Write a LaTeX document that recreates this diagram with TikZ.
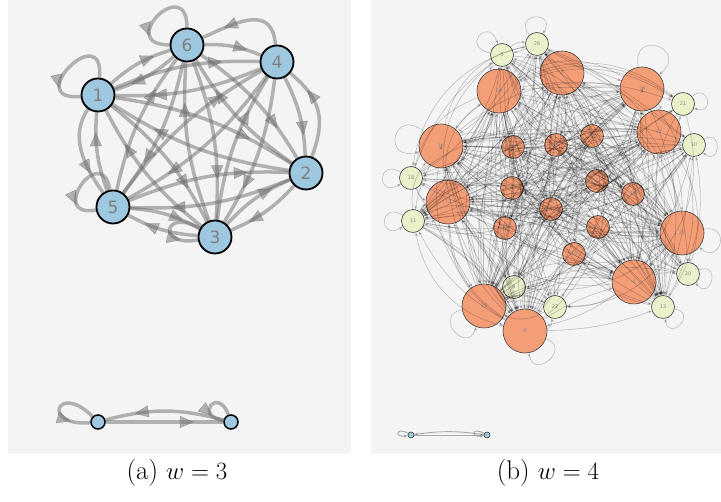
\documentclass[tikz,border=0pt]{standalone}
\usepackage{fontspec}
\newfontfamily\lab{DejaVu Sans}
\usetikzlibrary{arrows.meta,decorations.markings}
\definecolor{panel}{RGB}{244,244,244}
\definecolor{lblue}{RGB}{158,200,224}
\definecolor{lgray}{RGB}{110,110,110}
\definecolor{orng}{RGB}{244,158,120}
\definecolor{ylw}{RGB}{234,241,202}
\pgfdeclarelayer{back}
\pgfdeclarelayer{bg}
\pgfsetlayers{back,bg,main}
\pgfmathdeclarerandomlist{rn}{{0}{1}{2}{3}{4}{4}{5}{6}{6}{7}{7}{8}{9}{10}{11}{12}{12}{13}{14}{14}{15}{16}{17}{17}{18}{19}{19}{20}{21}{22}{23}{24}{24}{25}{25}{26}{27}{28}{28}{29}}
\begin{document}
\begin{tikzpicture}[x=1pt,y=1pt,
  lnode/.style={circle,draw=black,line width=1.8pt,fill=lblue,minimum size=33pt,inner sep=0pt,
    font=\lab\fontsize{17}{17}\selectfont,text=black!50},
  lsnode/.style={circle,draw=black,line width=1.5pt,fill=lblue,minimum size=14pt,inner sep=0pt},
  ledge/.style={line width=3.5pt,draw=lgray,opacity=0.5,postaction=decorate,
    decoration={markings,mark=at position 0.75 with {\arrow{Triangle[length=14pt,width=12pt,line width=0.5pt]}}}},
  rbase/.style={circle,draw=black!75,line width=0.6pt,inner sep=0pt,
    font=\lab\fontsize{5}{5}\selectfont,text=black!45},
  rbig/.style={rbase,fill=orng,minimum size=44pt},
  rsm/.style={rbase,fill=orng,minimum size=23pt},
  rylw/.style={rbase,fill=ylw,minimum size=23pt},
  redge/.style={line width=0.6pt,draw=black,opacity=0.22,-{Stealth[length=4pt,width=3pt]}},
  rtiny/.style={circle,draw=black!80,line width=0.6pt,fill=lblue,minimum size=6pt,inner sep=0pt},
  rtedge/.style={line width=0.9pt,draw=black!45,opacity=0.7,-{Stealth[length=4pt,width=3pt]}},
  captxt/.style={font=\fontsize{27}{32}\selectfont}]
\useasboundingbox (0,0) rectangle (721,502);
\begin{pgfonlayer}{back}
\fill[panel] (8,48) rectangle (351,502);
\fill[panel] (371,48) rectangle (721,502);
\end{pgfonlayer}

% ---------- panel (a) ----------
\node[lnode] (l6) at (187,457) {6};
\node[lnode] (l4) at (277,440) {4};
\node[lnode] (l1) at (98,407) {1};
\node[lnode] (l2) at (306,329) {2};
\node[lnode] (l5) at (113,295) {5};
\node[lnode] (l3) at (215,265) {3};
\node[lsnode] (lb1) at (98,80) {};
\node[lsnode] (lb2) at (231,80) {};

\begin{pgfonlayer}{bg}
\foreach \a/\b in {1/2,1/3,1/4,1/6,2/1,2/3,2/5,2/6,3/1,3/2,3/4,3/5,3/6,4/1,4/2,4/3,4/5,5/1,5/2,5/3,5/4,5/6,6/1,6/2,6/3,6/4,6/5}
  \draw[ledge] (l\a) to[bend left=12] (l\b);
\draw[ledge] (l4) to[out=95,in=25,looseness=1.4] (l6);
\draw[ledge] (l2) to[out=70,in=-40,looseness=1.2] (l4);
\draw[ledge] (l1) to[out=235,in=125] (l5);
\draw[ledge] (l1) to[out=85,in=185,loop,min distance=60pt] (l1);
\draw[ledge] (l6) to[out=90,in=180,loop,min distance=55pt] (l6);
\draw[ledge] (l5) to[out=100,in=190,loop,min distance=50pt] (l5);
\draw[ledge] (l3) to[out=150,in=190,loop,min distance=42pt] (l3);
\draw[ledge] (lb1) -- (lb2);
\draw[ledge] (lb2) to[bend right=15] (lb1);
\draw[ledge] (lb1) to[out=135,in=185,loop,min distance=50pt] (lb1);
\draw[ledge] (lb2) to[out=110,in=170,loop,min distance=30pt] (lb2);
\end{pgfonlayer}

% ---------- panel (b) ----------
\node[rylw] (r5) at (502,447) {5};
\node[rylw] (r26) at (537,458) {26};
\node[rbig] (r7) at (562,429) {7};
\node[rbig] (r24) at (499,411) {24};
\node[rbig] (r14) at (642,413) {14};
\node[rylw] (r21) at (683,398) {21};
\node[rbig] (r17) at (659,370) {17};
\node[rylw] (r10) at (694,357) {10};
\node[rbig] (r19) at (441,356) {19};
\node[rsm] (r27) at (513,355) {27};
\node[rsm] (r16) at (556,357) {16};
\node[rsm] (r0) at (592,366) {0};
\node[rylw] (r18) at (411,324) {18};
\node[rbig] (r12) at (448,300) {12};
\node[rylw] (r11) at (413,281) {11};
\node[rsm] (r8) at (512,314) {8};
\node[rsm] (r2) at (597,321) {2};
\node[rsm] (r29) at (633,308) {29};
\node[rsm] (r3) at (551,293) {3};
\node[rsm] (r23) at (505,274) {23};
\node[rsm] (r1) at (598,275) {1};
\node[rsm] (r15) at (574,248) {15};
\node[rbig] (r28) at (682,269) {28};
\node[rylw] (r20) at (688,228) {20};
\node[rbig] (r4) at (634,220) {4};
\node[rylw] (r13) at (663,195) {13};
\node[rylw] (r9) at (514,215) {9};
\node[rylw] (r22) at (555,195) {22};
\node[rbig] (r25) at (484,196) {25};
\node[rbig] (r6) at (525,171) {6};

\pgfmathsetseed{11}
\foreach \k in {1,...,420}{
  \pgfmathrandomitem{\ra}{rn}
  \pgfmathrandomitem{\rb}{rn}
  \pgfmathtruncatemacro{\bnd}{random(0,70)-35}
  \ifx\ra\rb\else
    \draw[redge] (r\ra) to[bend left=\bnd] (r\rb);
  \fi
}
\draw[redge] (r5) to[out=170,in=110,loop,min distance=30pt] (r5);
\draw[redge] (r26) to[out=130,in=60,loop,min distance=28pt] (r26);
\draw[redge] (r14) to[out=100,in=40,loop,min distance=40pt] (r14);
\draw[redge] (r21) to[out=40,in=-20,loop,min distance=22pt] (r21);
\draw[redge] (r10) to[out=30,in=-40,loop,min distance=22pt] (r10);
\draw[redge] (r19) to[out=140,in=195,loop,min distance=40pt] (r19);
\draw[redge] (r18) to[out=150,in=210,loop,min distance=28pt] (r18);
\draw[redge] (r11) to[out=150,in=210,loop,min distance=28pt] (r11);
\draw[redge] (r28) to[out=10,in=-40,loop,min distance=28pt] (r28);
\draw[redge] (r20) to[out=20,in=-50,loop,min distance=24pt] (r20);
\draw[redge] (r13) to[out=-10,in=-80,loop,min distance=24pt] (r13);
\draw[redge] (r6) to[out=-20,in=-80,loop,min distance=28pt] (r6);
\draw[redge] (r25) to[out=190,in=250,loop,min distance=30pt] (r25);

\node[rtiny] (rb1) at (411,67) {};
\node[rtiny] (rb2) at (487,67) {};
\draw[rtedge] (rb1) -- (rb2);
\draw[rtedge] (rb2) to[bend right=8] (rb1);
\draw[rtedge] (rb1) to[out=150,in=190,loop,min distance=14pt] (rb1);
\draw[rtedge] (rb2) to[out=150,in=190,loop,min distance=14pt] (rb2);

% ---------- captions ----------
\node[captxt] (ca) at (177,29) {(a) $w=3$};
\node[captxt] (cb) at (548,29) {(b) $w=4$};
\end{tikzpicture}
\end{document}
